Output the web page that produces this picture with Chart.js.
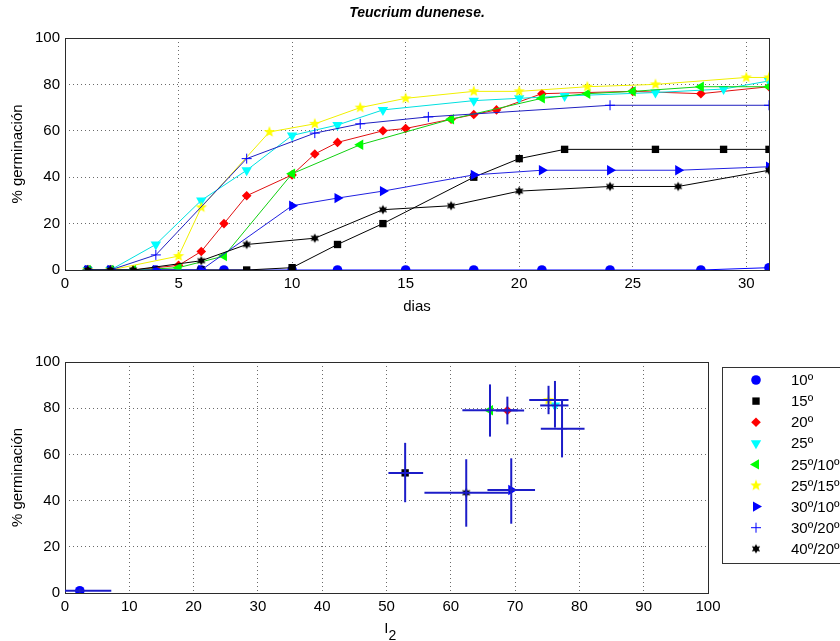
<!DOCTYPE html>
<html>
<head>
<meta charset="utf-8">
<script src="https://cdn.jsdelivr.net/npm/chart.js@4.4.1/dist/chart.umd.min.js"></script>
<style>
  body { margin: 0; background: #fff; }
  #graficaDias { position: absolute; left: 0; top: 0; }
  #graficaI2 { position: absolute; left: 0; top: 320px; }
</style>
</head>
<body>
<canvas id="graficaDias" width="840" height="320"></canvas>
<canvas id="graficaI2" width="840" height="321"></canvas>
<script>
// Series (leyenda)
const nombres = ['10º', '15º', '20º', '25º', '25º/10º', '25º/15º', '30º/10º', '30º/20º', '40º/20º'];

// Curvas de germinación: día y % germinación
const dias10 = [1, 2, 4, 6, 7, 10, 12, 15, 18, 21, 24, 28, 31];
const germ10 = [0, 0, 0, 0, 0, 0, 0, 0, 0, 0, 0, 0, 1];
const dias15 = [1, 2, 4, 6, 8, 10, 12, 14, 18, 20, 22, 26, 29, 31];
const germ15 = [0, 0, 0, 0, 0, 1, 11, 20, 40, 48, 52, 52, 52, 52];
const dias20 = [1, 2, 3, 5, 6, 7, 8, 10, 11, 12, 14, 15, 17, 18, 19, 21, 25, 28, 31];
const germ20 = [0, 0, 0, 2, 8, 20, 32, 41, 50, 55, 60, 61, 65, 67, 69, 76, 77, 76, 79];
const dias25 = [1, 2, 4, 6, 8, 10, 12, 14, 18, 20, 22, 26, 29, 31];
const germ25 = [0, 0, 11, 30, 43, 58, 62.5, 69, 73, 74, 75, 76.5, 78, 81.5];
const dias2510 = [1, 2, 3, 5, 7, 10, 13, 17, 21, 23, 25, 28, 31];
const germ2510 = [0, 0, 0, 1, 6, 41.5, 54, 65, 74, 76, 77, 79, 79];
const dias2515 = [1, 2, 5, 6, 9, 11, 13, 15, 18, 20, 23, 26, 30, 31];
const germ2515 = [0, 0, 6, 27, 59.5, 63, 70, 74, 77, 77, 79, 80, 83, 83];
const dias3010 = [1, 2, 4, 6, 10, 12, 14, 18, 21, 24, 27, 31];
const germ3010 = [0, 0, 0, 0, 27.7, 31, 34, 41, 43, 43, 43, 44.5];
const dias3020 = [1, 2, 4, 8, 11, 13, 16, 24, 31];
const germ3020 = [0, 0, 6.5, 48, 59, 63, 66, 71, 71];
const dias4020 = [1, 2, 3, 6, 8, 11, 14, 17, 20, 24, 27, 31];
const germ4020 = [0, 0, 0, 4, 11, 13.7, 26, 27.7, 34, 36, 36, 43];

const diasSeries = [dias10, dias15, dias20, dias25, dias2510, dias2515, dias3010, dias3020, dias4020];
const germSeries = [germ10, germ15, germ20, germ25, germ2510, germ2515, germ3010, germ3020, germ4020];

// Gráfica inferior: I2 vs germinación final, con barras de error
const i2 = [2.3, 52.9, 68.8, 76.2, 66.1, 75.2, 69.4, 77.3, 62.4];
const i2Min = [-2.6, 50.3, 67.0, 73.9, 61.8, 72.2, 65.7, 74.0, 55.9];
const i2Max = [7.2, 55.7, 71.4, 78.3, 70.4, 78.3, 73.1, 80.8, 69.0];
const germFinal = [1, 52, 79, 81.2, 79.1, 83.5, 44.6, 71.1, 43.4];
const germMin = [0, 39.3, 73, 71.6, 67.7, 77.4, 30, 58.7, 28.7];
const germMax = [2, 65, 85, 91.8, 90.3, 89.7, 58.3, 83.5, 57.9];

const ticksDias = [0, 5, 10, 15, 20, 25, 30];

// estrellas para los marcadores tipo pentagrama / hexagrama
function estrella(puntas, rExt, rInt, color) {
    const c = document.createElement('canvas');
    const lado = Math.ceil(rExt * 2 + 2);
    c.width = lado; c.height = lado;
    const g = c.getContext('2d');
    g.translate(lado / 2, lado / 2);
    g.beginPath();
    for (let k = 0; k < puntas * 2; k++) {
        const r = k % 2 === 0 ? rExt : rInt;
        const a = -Math.PI / 2 + k * Math.PI / puntas;
        g.lineTo(r * Math.cos(a), r * Math.sin(a));
    }
    g.closePath();
    g.fillStyle = color;
    g.fill();
    return c;
}

const colores = ['#0000ff', '#000000', '#ff0000', '#00ffff', '#00ff00', '#ffff00', '#0000ff', '#0000ff', '#000000'];
const lineas = ['#0000ff', '#000000', '#e01010', '#00e0e0', '#10d010', '#f0f000', '#2020e0', '#2020c0', '#000000'];
const marcadores = [
    { pointStyle: 'circle', radius: 4.8, rotation: 0 },
    { pointStyle: 'rect', radius: 5.2, rotation: 0 },
    { pointStyle: 'rectRot', radius: 4.8, rotation: 0 },
    { pointStyle: 'triangle', radius: 6, rotation: 180 },
    { pointStyle: 'triangle', radius: 6, rotation: -90 },
    { pointStyle: estrella(5, 6, 2.5, '#ffff00'), radius: 6, rotation: 0 },
    { pointStyle: 'triangle', radius: 6, rotation: 90 },
    { pointStyle: 'cross', radius: 5, rotation: 0 },
    { pointStyle: estrella(6, 4.8, 2.6, '#000000'), radius: 5, rotation: 0 }
];

const fuente = '"Liberation Sans", Arial, sans-serif';
Chart.defaults.font.family = fuente;
Chart.defaults.font.size = 15;
Chart.defaults.color = '#000';

// marco completo alrededor del área
const marco = {
    id: 'marco',
    beforeDatasetsDraw(chart) {
        const a = chart.chartArea;
        const ctx = chart.ctx;
        ctx.save();
        ctx.strokeStyle = '#2b2b2b';
        ctx.lineWidth = 1;
        ctx.strokeRect(Math.round(a.left) + 0.5, Math.round(a.top) + 0.5, Math.round(a.right - a.left), Math.round(a.bottom - a.top));
        ctx.restore();
    }
};

const titulo = {
    id: 'titulo',
    afterDraw(chart) {
        const a = chart.chartArea;
        const ctx = chart.ctx;
        ctx.save();
        ctx.font = 'italic bold 14px ' + fuente;
        ctx.fillStyle = '#000';
        ctx.textAlign = 'center';
        ctx.textBaseline = 'middle';
        ctx.fillText('Teucrium dunenese.', (a.left + a.right) / 2, 13);
        ctx.restore();
    }
};

// etiqueta I con subíndice 2
const etiquetaI2 = {
    id: 'etiquetaI2',
    afterDraw(chart) {
        const a = chart.chartArea;
        const ctx = chart.ctx;
        const cx = (a.left + a.right) / 2;
        ctx.save();
        ctx.fillStyle = '#000';
        ctx.textBaseline = 'alphabetic';
        ctx.textAlign = 'right';
        ctx.font = '15px ' + fuente;
        ctx.fillText('I', cx + 2, 313);
        ctx.textAlign = 'left';
        ctx.font = '14px ' + fuente;
        ctx.fillText('2', cx + 2, 320);
        ctx.restore();
    }
};

function ejeY(titulo) {
    return {
        min: 0, max: 100,
        ticks: { stepSize: 20, padding: 5 },
        grid: { color: '#6a6a6a', drawTicks: false },
        border: { display: false, dash: [1, 3] },
        title: { display: true, text: titulo, padding: { top: 9, bottom: 0 }, font: { size: 15 } },
        afterFit(s) { s.width = 65; }
    };
}

// A. GRÁFICA SUPERIOR (días)
const datosDias = nombres.map((n, i) => ({
    label: n,
    data: diasSeries[i].map((d, k) => ({ x: d, y: germSeries[i][k] })),
    showLine: true,
    borderColor: lineas[i],
    borderWidth: 1,
    pointStyle: marcadores[i].pointStyle,
    pointRadius: marcadores[i].radius,
    pointRotation: marcadores[i].rotation,
    pointBackgroundColor: colores[i],
    pointBorderColor: colores[i],
    pointBorderWidth: marcadores[i].pointStyle === 'cross' ? 1 : 0,
    order: nombres.length - i
}));

new Chart(document.getElementById('graficaDias'), {
    type: 'scatter',
    data: { datasets: datosDias },
    options: {
        responsive: false,
        animation: false,
        devicePixelRatio: 1,
        layout: { padding: { top: 38, right: 71, left: 0, bottom: 0 } },
        plugins: { legend: { display: false }, tooltip: { enabled: false } },
        scales: {
            x: {
                type: 'linear', min: 0, max: 31,
                afterBuildTicks(s) { s.ticks = ticksDias.map(v => ({ value: v })); },
                ticks: { padding: 5 },
                grid: { color: '#6a6a6a', drawTicks: false },
                border: { display: false, dash: [1, 3] },
                title: { display: true, text: 'dias', padding: { top: 0, bottom: 4 }, font: { size: 15 } },
                afterFit(s) { s.height = 50; }
            },
            y: ejeY('% germinación')
        }
    },
    plugins: [marco, titulo]
});

// B. GRÁFICA INFERIOR (I2)
const puntosI2 = nombres.map((n, i) => ({
    label: n,
    data: [{ x: i2[i], y: germFinal[i] }],
    showLine: false,
    pointStyle: marcadores[i].pointStyle,
    pointRadius: marcadores[i].radius,
    pointRotation: marcadores[i].rotation,
    pointBackgroundColor: colores[i],
    pointBorderColor: colores[i],
    pointBorderWidth: marcadores[i].pointStyle === 'cross' ? 1 : 0,
    order: 20 + nombres.length - i
}));

const barras = [];
nombres.forEach((n, i) => {
    const base = { showLine: true, pointRadius: 0, borderColor: '#1c1cc8', borderWidth: 2, order: 1 };
    barras.push(Object.assign({ data: [{ x: i2Min[i], y: germFinal[i] }, { x: i2Max[i], y: germFinal[i] }] }, base));
    barras.push(Object.assign({ data: [{ x: i2[i], y: germMin[i] }, { x: i2[i], y: germMax[i] }] }, base));
});

const leyenda = {
    id: 'leyenda',
    afterDraw(chart) {
        const ctx = chart.ctx;
        ctx.save();
        ctx.fillStyle = '#fff';
        ctx.fillRect(722, 47, 130, 196);
        ctx.strokeStyle = '#333';
        ctx.lineWidth = 1;
        ctx.strokeRect(722.5, 47.5, 130, 196);
        nombres.forEach((n, i) => {
            const y = 60 + i * 21.1;
            const m = marcadores[i];
            ctx.fillStyle = colores[i];
            ctx.strokeStyle = colores[i];
            ctx.lineWidth = 1;
            Chart.helpers.drawPoint(ctx, {
                pointStyle: m.pointStyle, rotation: m.rotation, radius: m.radius,
                borderWidth: m.pointStyle === 'cross' ? 1 : 0
            }, 756, y);
            ctx.fillStyle = '#000';
            ctx.font = '15px ' + fuente;
            ctx.textAlign = 'left';
            ctx.textBaseline = 'middle';
            ctx.fillText(n, 791, y + 1);
        });
        ctx.restore();
    }
};

new Chart(document.getElementById('graficaI2'), {
    type: 'scatter',
    data: { datasets: puntosI2.concat(barras) },
    options: {
        responsive: false,
        animation: false,
        devicePixelRatio: 1,
        layout: { padding: { top: 42, right: 132, left: 0, bottom: 0 } },
        plugins: { legend: { display: false }, tooltip: { enabled: false } },
        scales: {
            x: {
                type: 'linear', min: 0, max: 100,
                ticks: { stepSize: 10, padding: 5 },
                grid: { color: '#6a6a6a', drawTicks: false },
                border: { display: false, dash: [1, 3] },
                afterFit(s) { s.height = 48; }
            },
            y: ejeY('% germinación')
        }
    },
    plugins: [marco, leyenda, etiquetaI2]
});
</script>
</body>
</html>
